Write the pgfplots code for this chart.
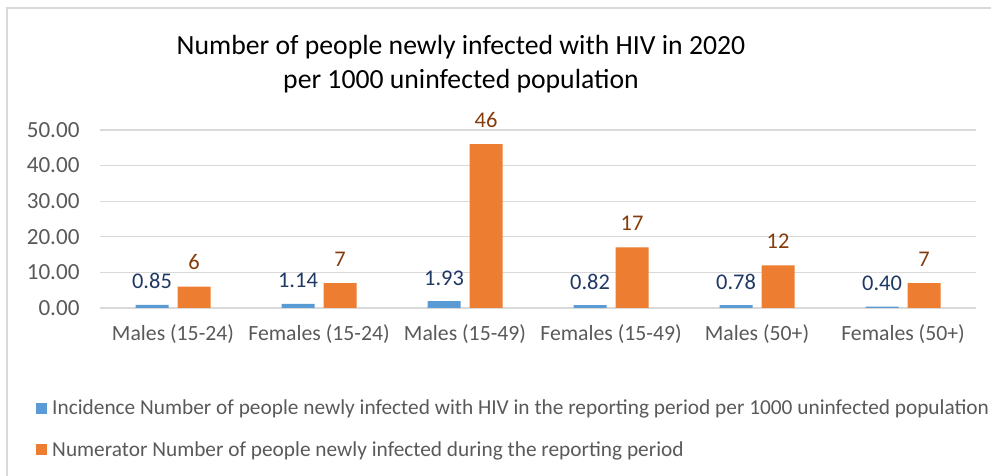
\documentclass[border=0pt]{standalone}
\usepackage{pgfplots}
\pgfplotsset{compat=1.18}
\usepackage{fontspec}
\setmainfont{Carlito}
\definecolor{cblue}{HTML}{5B9BD5}
\definecolor{corange}{HTML}{ED7D31}
\definecolor{lblue}{HTML}{203864}
\definecolor{lorange}{HTML}{843C0C}
\definecolor{tgray}{HTML}{595959}
\definecolor{ggray}{HTML}{D9D9D9}
\begin{document}
\begin{tikzpicture}[x=1bp,y=1bp]
\useasboundingbox (0,0) rectangle (991,476);
\draw[color=ggray, line width=2bp] (7,0) -- (7,468) -- (991,468);
\node[font=\fontsize{27.8}{34}\selectfont, color=black, align=center] at (461,412) {Number of people newly infected with HIV in 2020\\per 1000 uninfected population};
\begin{axis}[
  at={(100bp,168bp)}, anchor=south west,
  scale only axis, width=876bp, height=178bp,
  xmin=-0.5, xmax=5.5, ymin=0, ymax=50,
  ybar=9bp, bar width=33bp,
  axis line style={draw=none},
  major tick style={draw=none},
  ymajorgrids, grid style={color=ggray, line width=1.3bp},
  ytick={0,10,20,30,40,50},
  yticklabel style={/pgf/number format/fixed, /pgf/number format/fixed zerofill, /pgf/number format/precision=2, /pgf/number format/assume math mode=true,
    font=\fontsize{23.2}{27}\selectfont, color=tgray, xshift=-17bp},
  xtick={0,1,2,3,4,5},
  xticklabels={Males (15-24), Females (15-24), Males (15-49), Females (15-49), Males (50+), Females (50+)},
  xticklabel style={font=\fontsize{21.8}{26}\selectfont, color=tgray, yshift=-9bp},
  legend style={draw=none, fill=none, at={(-0.073,-0.505)}, anchor=north west,
    font=\fontsize{21.4}{25}\selectfont, text=tgray, row sep=21bp, inner sep=0pt},
  legend cell align=left,
  legend image code/.code={\fill[#1] (0bp,-5.5bp) rectangle (11bp,5.5bp); \path (14bp,0bp);},
  clip=false,
]
\addplot[fill=cblue, draw=none, point meta=explicit symbolic, nodes near coords,
  nodes near coords style={font=\fontsize{22.5}{26}\selectfont, color=lblue, anchor=base, inner sep=0pt, yshift=16bp}]
  coordinates {(0,0.85) [0.85] (1,1.14) [1.14] (2,1.93) [1.93] (3,0.82) [0.82] (4,0.78) [0.78] (5,0.40) [0.40]};
\addplot[fill=corange, draw=none, point meta=explicit symbolic, nodes near coords,
  nodes near coords style={font=\fontsize{22.5}{26}\selectfont, color=lorange, anchor=base, inner sep=0pt, yshift=17bp}]
  coordinates {(0,6) [6] (1,7) [7] (2,46) [46] (3,17) [17] (4,12) [12] (5,7) [7]};
\legend{Incidence Number of people newly infected with HIV in the reporting period per 1000 uninfected population, Numerator Number of people newly infected during the reporting period}
\end{axis}
\end{tikzpicture}
\end{document}
